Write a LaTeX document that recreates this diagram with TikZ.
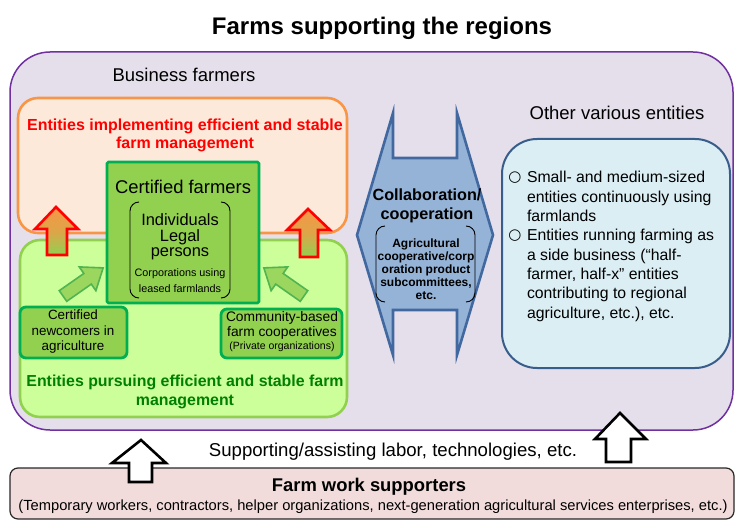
\documentclass[tikz,border=0pt]{standalone}
\usepackage{fontspec}
\setmainfont{Liberation Sans}
\newfontfamily\symfont{DejaVu Sans}
\definecolor{purplefill}{RGB}{229,223,236}
\definecolor{purpledraw}{RGB}{112,48,160}
\definecolor{orangedraw}{RGB}{247,150,70}
\definecolor{orangefill}{RGB}{253,233,217}
\definecolor{certfill}{RGB}{146,208,80}
\definecolor{certdraw}{RGB}{0,176,80}
\definecolor{lgfill}{RGB}{204,255,153}
\definecolor{lgdraw}{RGB}{146,208,80}
\definecolor{greentext}{RGB}{0,128,0}
\definecolor{collabfill}{RGB}{149,179,215}
\definecolor{collabdraw}{RGB}{65,105,160}
\definecolor{lbfill}{RGB}{219,238,244}
\definecolor{lbdraw}{RGB}{56,93,138}
\definecolor{pinkfill}{RGB}{242,220,219}
\definecolor{pinkdraw}{RGB}{40,40,40}
\definecolor{garrowfill}{RGB}{155,214,95}
\definecolor{garrowdraw}{RGB}{80,180,80}
\newcommand{\fs}[2]{\fontsize{#1}{#2}\selectfont}
\begin{document}
\begin{tikzpicture}[x=1pt,y=-1pt,
  box/.style={anchor=north west,inner sep=0,outer sep=0},
  lbl/.style={inner sep=0,align=center},
  bracket/.style={draw=black,line width=0.9pt},
  redarrow/.style={draw=red,line width=2.6pt,top color=orangedraw,bottom color=certfill,middle color=orangedraw!75!certfill},
  greenarrow/.style={draw=garrowdraw,line width=1.6pt,fill=garrowfill,line join=miter},
  blackarrow/.style={draw=black,line width=2.6pt,fill=white,line join=miter}]
\useasboundingbox (0,0) rectangle (735,521);
% outer region
\node[box,draw=purpledraw,fill=purplefill,line width=1.5pt,rounded corners=40pt,minimum width=723pt,minimum height=378pt] (region) at (10,52) {};
\node[font=\bfseries\fs{24}{28}] (title) at (382,28) {Farms supporting the regions};
\node[lbl,font=\fs{18.5}{22}] (business) at (184,75) {Business farmers};
% orange box
\node[box,draw=orangedraw,fill=orangefill,line width=2.6pt,rounded corners=20pt,minimum width=329pt,minimum height=135pt] (impl) at (18,98) {};
\node[lbl,font=\bfseries\fs{16}{18}] (impltext) at (185,135) {\textcolor{red}{Entities implementing efficient and stable}\\\textcolor{red}{farm management}};
% light green box
\node[box,draw=lgdraw,fill=lgfill,line width=2.6pt,rounded corners=20pt,minimum width=327pt,minimum height=177pt] (pursue) at (20,240) {};
\node[lbl,font=\bfseries\fs{15.9}{19},text=greentext] (pursuetext) at (185,392) {Entities pursuing efficient and stable farm\\management};
% red arrows
\draw[redarrow] (56,207) -- (78,229) -- (67,229) -- (67,255) -- (47,255) -- (47,229) -- (35,229) -- cycle;
\draw[redarrow] (308,209) -- (330,230) -- (318,230) -- (318,257) -- (300,257) -- (300,230) -- (287,230) -- cycle;
% certified farmers
\node[box,draw=certdraw,fill=certfill,line width=2.8pt,rounded corners=1.5pt,minimum width=152pt,minimum height=141pt] (cert) at (107,162) {};
\node[lbl,font=\fs{18.4}{21}] (certtitle) at (183,187) {Certified farmers};
\node[lbl,font=\fs{16.4}{15.5}] (persons) at (180,237) {Individuals\\Legal\\persons};
\node[lbl,font=\fs{10.8}{16}] (corp) at (180,281) {Corporations using\\leased farmlands};
\draw[bracket] (139,202) to[out=180,in=90] (130,211) -- (130,289) to[out=-90,in=180] (139,298);
\draw[bracket] (221,202) to[out=0,in=90] (230,211) -- (230,289) to[out=-90,in=0] (221,298);
% green arrows
\begin{scope}[shift={(63,296)},rotate=35]
\draw[greenarrow] (0,-6.5) -- (30,-6.5) -- (30,-14.5) -- (49,0) -- (30,14.5) -- (30,6.5) -- (0,6.5) -- cycle;
\end{scope}
\begin{scope}[shift={(304,296)},rotate=145]
\draw[greenarrow] (0,-6.5) -- (30,-6.5) -- (30,-14.5) -- (49,0) -- (30,14.5) -- (30,6.5) -- (0,6.5) -- cycle;
\end{scope}
% small boxes
\node[box,draw=certdraw,fill=certfill,line width=2.8pt,rounded corners=6pt,minimum width=107pt,minimum height=51pt] (newcomers) at (20,307) {};
\node[lbl,font=\fs{13.4}{15.5}] (newtext) at (73,332) {Certified\\newcomers in\\agriculture};
\node[box,draw=certdraw,fill=certfill,line width=2.8pt,rounded corners=6pt,minimum width=121pt,minimum height=49pt] (community) at (221,309) {};
\node[lbl,font=\fs{13.8}{15}] (commtext) at (282,325.5) {Community-based\\farm cooperatives};
\node[lbl,font=\fs{10.5}{12}] (commsub) at (282,347) {(Private organizations)};
% collaboration double arrow
\draw[draw=collabdraw,fill=collabfill,line width=2.6pt,line join=miter] (357,235) -- (393,113) -- (393,158) -- (457,158) -- (457,113) -- (493,235) -- (457,355) -- (457,310) -- (393,310) -- (393,355) -- cycle;
\node[lbl,font=\bfseries\fs{16.2}{19}] (collab) at (427,206) {Collaboration/\\cooperation};
\draw[bracket] (385,226) to[out=180,in=90] (376,235) -- (376,293) to[out=-90,in=180] (385,302);
\draw[bracket] (466,226) to[out=0,in=90] (475,235) -- (475,293) to[out=-90,in=0] (466,302);
\node[lbl,font=\bfseries\fs{12}{13}] (subcomm) at (426,269) {Agricultural\\cooperative/corp\\oration product\\subcommittees,\\etc.};
% other entities
\node[lbl,font=\fs{18.5}{22}] (other) at (617,113) {Other various entities};
\node[box,draw=lbdraw,fill=lbfill,line width=2pt,rounded corners=35pt,minimum width=228pt,minimum height=229pt] (otherbox) at (502,139) {};
\node[lbl,font=\symfont\fs{15}{16}] (c1) at (515,178) {○};
\node[lbl,font=\symfont\fs{15}{16}] (c2) at (515,236) {○};
\node[box,align=left,font=\fs{15.8}{19.2}] (b1) at (527,171.5) {Small- and medium-sized\\entities continuously using\\farmlands};
\node[box,align=left,font=\fs{15.8}{19.3}] (b2) at (527,229.5) {Entities running farming as\\a side business (“half-\\farmer, half-x” entities\\contributing to regional\\agriculture, etc.), etc.};
% bottom supporters
\node[box,draw=pinkdraw,fill=pinkfill,line width=1.2pt,rounded corners=8pt,minimum width=724pt,minimum height=51pt] (supporters) at (10,468) {};
\node[lbl,font=\bfseries\fs{18.4}{20}] (suptitle) at (369,487) {Farm work supporters};
\node[lbl,font=\fs{14.7}{16}] (supsub) at (373,507) {(Temporary workers, contractors, helper organizations, next-generation agricultural services enterprises, etc.)};
\node[lbl,font=\fs{18.6}{20}] (assist) at (393,452) {Supporting/assisting labor, technologies, etc.};
\draw[blackarrow] (141,440) -- (166,463) -- (152,463) -- (152,482) -- (129,482) -- (129,463) -- (112,463) -- cycle;
\draw[blackarrow] (620,413) -- (646,439) -- (631,439) -- (631,462) -- (606,462) -- (606,439) -- (595,439) -- cycle;
\end{tikzpicture}
\end{document}
